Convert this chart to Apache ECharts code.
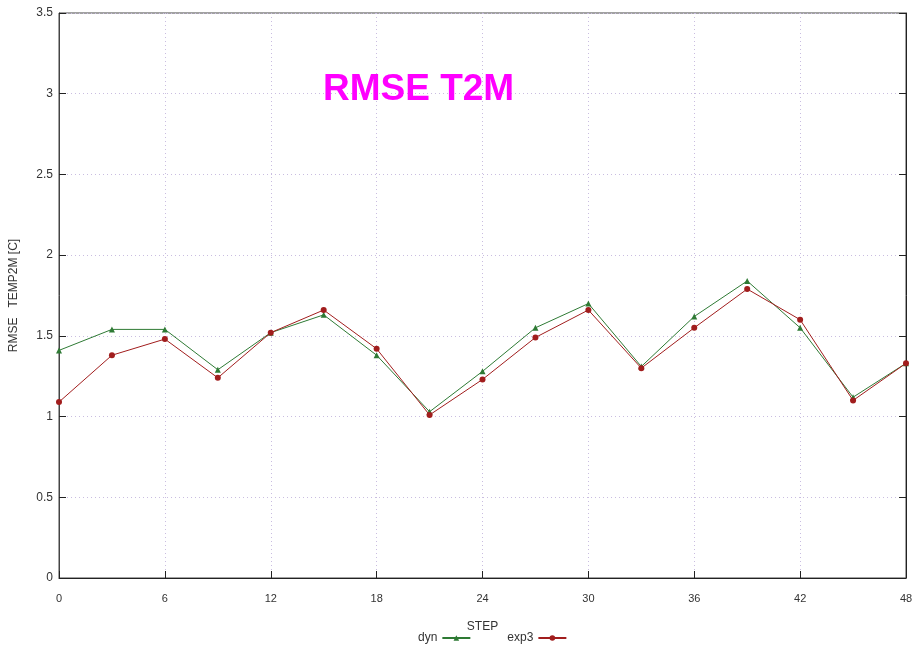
<!DOCTYPE html>
<html><head><meta charset="utf-8">
<script src="https://cdn.jsdelivr.net/npm/echarts@6/dist/echarts.min.js"></script>
<style>html,body{margin:0;padding:0;background:#fff}#c{width:914px;height:646px}</style>
</head><body><div id="c"></div>
<script>
var steps = [0,3,6,9,12,15,18,21,24,27,30,33,36,39,42,45,48];
var dyn  = [1.41,1.54,1.54,1.29,1.52,1.63,1.38,1.03,1.28,1.55,1.70,1.31,1.62,1.84,1.55,1.12,1.33];
var exp3 = [1.09,1.38,1.48,1.24,1.52,1.66,1.42,1.01,1.23,1.49,1.66,1.30,1.55,1.79,1.60,1.10,1.33];
var xTicks = [0,6,12,18,24,30,36,42,48];
var yTicks = [0,0.5,1,1.5,2,2.5,3,3.5];

function pairs(v){ return steps.map(function(s,i){ return [s, v[i]]; }); }
var font = 'Liberation Sans, Arial, sans-serif';
var grid = '#c9bde0';
var chart = echarts.init(document.getElementById('c'));
chart.setOption({
  animation:false,
  title:{text:'RMSE T2M', left:318, top:66, textStyle:{color:'#ff00ff', fontSize:37, fontWeight:'bold', fontFamily:font}},
  grid:{left:59, right:8, top:13, bottom:68, show:true, borderColor:'#444', borderWidth:1, containLabel:false, outerBoundsMode:'none'},
  legend:{top:627, left:413, align:'right', itemWidth:28, itemHeight:7, itemGap:36,
    textStyle:{fontSize:12, color:'#333', fontFamily:font},
    data:['dyn','exp3']},
  xAxis:[{type:'value', position:'bottom', min:0, max:48, interval:6, name:'STEP', nameLocation:'middle', nameGap:43,
    nameTextStyle:{fontSize:12, color:'#333', fontFamily:font},
    axisLine:{lineStyle:{color:'#222'}}, axisTick:{inside:true, length:7, lineStyle:{color:'#222'}},
    axisLabel:{fontSize:11, color:'#333', margin:15, fontFamily:font},
    splitLine:{show:true, lineStyle:{color:grid, type:[1,3]}}}],
  yAxis:[{type:'value', position:'left', min:0, max:3.5, interval:0.5, name:'RMSE   TEMP2M [C]', nameLocation:'middle', nameGap:39,
    nameTextStyle:{fontSize:12, color:'#333', fontFamily:font},
    axisLine:{show:true, lineStyle:{color:'#444'}}, axisTick:{show:true, inside:true, length:7, lineStyle:{color:'#222'}},
    axisLabel:{fontSize:12, color:'#333', margin:6, fontFamily:font},
    splitLine:{show:true, lineStyle:{color:grid, type:[1,3]}}},
    {type:'value', position:'right', min:0, max:3.5, interval:0.5,
    axisLine:{show:true, lineStyle:{color:'#222'}}, axisTick:{show:true, inside:true, length:7, lineStyle:{color:'#222'}},
    axisLabel:{show:false}, splitLine:{show:false}}],
  series:[
    {name:'dyn', type:'line', data:pairs(dyn), symbol:'triangle', symbolSize:6,
     lineStyle:{width:1, color:'#2e7a34'}, itemStyle:{color:'#2e7a34'}},
    {name:'exp3', type:'line', data:pairs(exp3), symbol:'circle', symbolSize:6,
     lineStyle:{width:1, color:'#a11d1d'}, itemStyle:{color:'#a11d1d'}}
  ]
});
</script></body></html>
